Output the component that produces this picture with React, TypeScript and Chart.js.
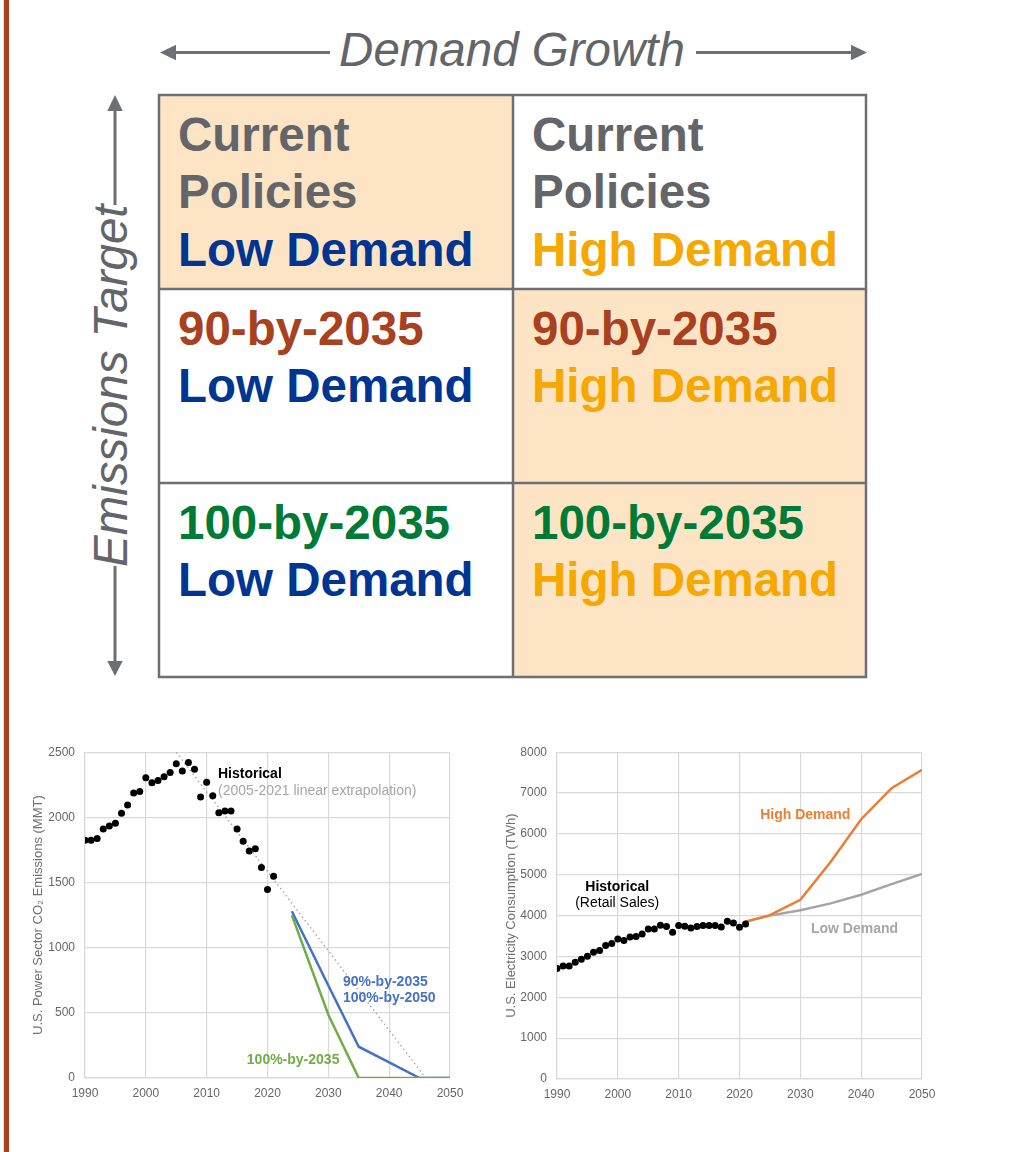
import React, { useEffect, useRef } from "react";
import { Chart, registerables } from "chart.js";

Chart.register(...registerables);

const FONT = '"Liberation Sans", Arial, Helvetica, sans-serif';

// ---------- Emissions chart data ----------
const emYears = [1990, 1991, 1992, 1993, 1994, 1995, 1996, 1997, 1998, 1999, 2000, 2001, 2002, 2003, 2004, 2005, 2006, 2007, 2008, 2009, 2010, 2011, 2012, 2013, 2014, 2015, 2016, 2017, 2018, 2019, 2020, 2021];
const emValues = [1824, 1824, 1837, 1911, 1934, 1954, 2031, 2094, 2186, 2199, 2303, 2265, 2283, 2311, 2344, 2411, 2355, 2421, 2370, 2156, 2270, 2166, 2036, 2048, 2048, 1911, 1816, 1742, 1760, 1615, 1446, 1548];
const trendYears = [2005, 2046];
const trendValues = [2500, 0];
const scenYears = [2024, 2030, 2035, 2040, 2045, 2050];
const em90Values = [1280, 710, 240, 120, 0, 0];
const em100Values = [1250, 485, 0, 0, 0, 0];

// ---------- Consumption chart data ----------
const conYears = [1990, 1991, 1992, 1993, 1994, 1995, 1996, 1997, 1998, 1999, 2000, 2001, 2002, 2003, 2004, 2005, 2006, 2007, 2008, 2009, 2010, 2011, 2012, 2013, 2014, 2015, 2016, 2017, 2018, 2019, 2020, 2021];
const conValues = [2702, 2767, 2767, 2857, 2931, 3004, 3102, 3143, 3265, 3314, 3429, 3388, 3478, 3486, 3551, 3673, 3673, 3763, 3731, 3592, 3755, 3739, 3698, 3731, 3755, 3755, 3755, 3722, 3861, 3820, 3714, 3796];
const projYears = [2021, 2025, 2030, 2035, 2040, 2045, 2050];
const highDemandValues = [3853, 4010, 4385, 5320, 6360, 7120, 7570];
const lowDemandValues = [3853, 4000, 4130, 4300, 4510, 4770, 5020];

// ---------- Matrix text ----------
const GRAY = "#636569";
const BLUE = "#003591";
const GOLD = "#F5A800";
const RUST = "#A8411F";
const GREEN = "#007A37";
const PEACH = "#FDE4C5";

const matrixCells = [
  { row: 0, col: 0, fill: true, lines: [["Current", GRAY], ["Policies", GRAY], ["Low Demand", BLUE]] },
  { row: 0, col: 1, fill: false, lines: [["Current", GRAY], ["Policies", GRAY], ["High Demand", GOLD]] },
  { row: 1, col: 0, fill: false, lines: [["90-by-2035", RUST], ["Low Demand", BLUE]] },
  { row: 1, col: 1, fill: true, lines: [["90-by-2035", RUST], ["High Demand", GOLD]] },
  { row: 2, col: 0, fill: false, lines: [["100-by-2035", GREEN], ["Low Demand", BLUE]] },
  { row: 2, col: 1, fill: true, lines: [["100-by-2035", GREEN], ["High Demand", GOLD]] },
];

const COLS = [159, 513, 866];
const ROWS = [95, 289, 483, 677];

type Note = { text: string; x: number; y: number; color: string; bold: boolean; align: CanvasTextAlign };

const emNotes: Note[] = [
  { text: "Historical", x: 2011.86, y: 2331, color: "#000000", bold: true, align: "left" },
  { text: "(2005-2021 linear extrapolation)", x: 2011.86, y: 2200, color: "#A6A6A6", bold: false, align: "left" },
  { text: "90%-by-2035", x: 2032.4, y: 736, color: "#4472C4", bold: true, align: "left" },
  { text: "100%-by-2050", x: 2032.4, y: 613, color: "#4472C4", bold: true, align: "left" },
  { text: "100%-by-2035", x: 2016.6, y: 138, color: "#70AD47", bold: true, align: "left" },
];

const conNotes: Note[] = [
  { text: "High Demand", x: 2023.4, y: 6459, color: "#ED7D31", bold: true, align: "left" },
  { text: "Low Demand", x: 2031.75, y: 3670, color: "#A6A6A6", bold: true, align: "left" },
  { text: "Historical", x: 1999.9, y: 4697, color: "#000000", bold: true, align: "center" },
  { text: "(Retail Sales)", x: 1999.9, y: 4306, color: "#000000", bold: false, align: "center" },
];

const notesPlugin = (notes: Note[]) => ({
  id: "notes",
  afterDatasetsDraw(chart: any) {
    const { ctx, scales } = chart;
    ctx.save();
    for (const n of notes) {
      ctx.font = `${n.bold ? "bold " : ""}14px ${FONT}`;
      ctx.fillStyle = n.color;
      ctx.textAlign = n.align;
      ctx.textBaseline = "middle";
      ctx.fillText(n.text, scales.x.getPixelForValue(n.x), scales.y.getPixelForValue(n.y));
    }
    ctx.restore();
  },
});

const pts = (xs: number[], ys: number[]) => xs.map((x, i) => ({ x, y: ys[i] }));

function axes(yMax: number, yStep: number, yTitle: string, yWidth: number, xHeight: number) {
  const tickFont = { family: FONT, size: 12 };
  return {
    x: {
      type: "linear",
      min: 1990,
      max: 2050,
      ticks: { stepSize: 10, callback: (v: any) => String(v), color: "#666666", font: tickFont, padding: 8, maxRotation: 0 },
      grid: { color: "#D9D9D9", drawTicks: false, lineWidth: 1.2 },
      border: { color: "#D9D9D9", width: 1.2 },
      afterFit: (s: any) => { s.height = xHeight; },
    },
    y: {
      type: "linear",
      min: 0,
      max: yMax,
      ticks: { stepSize: yStep, callback: (v: any) => String(v), color: "#666666", font: tickFont, padding: 10 },
      grid: { color: "#D9D9D9", drawTicks: false, lineWidth: 1.2 },
      border: { color: "#D9D9D9", width: 1.2 },
      title: { display: true, text: yTitle, color: "#707070", font: { family: FONT, size: 13 }, padding: { top: 4, bottom: 4 } },
      afterFit: (s: any) => { s.width = yWidth; },
    },
  };
}

function EmissionsChart() {
  const ref = useRef<HTMLCanvasElement>(null);
  useEffect(() => {
    const chart = new Chart(ref.current!, {
      type: "scatter",
      data: {
        datasets: [
          { data: pts(emYears, emValues), showLine: false, pointRadius: 3.5, pointBackgroundColor: "#000", pointBorderWidth: 0 },
          { data: pts(scenYears, em100Values), showLine: true, borderColor: "#70AD47", borderWidth: 2.5, pointRadius: 0, tension: 0 },
          { data: pts(scenYears, em90Values), showLine: true, borderColor: "#4472C4", borderWidth: 2.5, pointRadius: 0, tension: 0 },
          { data: pts(trendYears, trendValues), showLine: true, borderColor: "#9A9A9A", borderWidth: 1.2, borderDash: [1.5, 3], pointRadius: 0 },
        ],
      } as any,
      options: {
        animation: false,
        responsive: false,
        maintainAspectRatio: false,
        layout: { padding: { left: 27, top: 0, right: 30, bottom: 0 } },
        plugins: { legend: { display: false }, tooltip: { enabled: false } },
        scales: axes(2500, 500, "U.S. Power Sector CO\u2082 Emissions (MMT)", 58, 37) as any,
      },
      plugins: [notesPlugin(emNotes)],
    });
    return () => chart.destroy();
  }, []);
  return <canvas ref={ref} width={480} height={380} style={{ position: "absolute", left: 0, top: 735, width: 480, height: 380 }} />;
}

function ConsumptionChart() {
  const ref = useRef<HTMLCanvasElement>(null);
  useEffect(() => {
    const chart = new Chart(ref.current!, {
      type: "scatter",
      data: {
        datasets: [
          { data: pts(conYears, conValues), showLine: false, pointRadius: 3.5, pointBackgroundColor: "#000", pointBorderWidth: 0 },
          { data: pts(projYears, highDemandValues), showLine: true, borderColor: "#ED7D31", borderWidth: 2.5, pointRadius: 0, tension: 0 },
          { data: pts(projYears, lowDemandValues), showLine: true, borderColor: "#A5A5A5", borderWidth: 2.5, pointRadius: 0, tension: 0 },
        ],
      } as any,
      options: {
        animation: false,
        responsive: false,
        maintainAspectRatio: false,
        layout: { padding: { left: 20, top: 0, right: 28, bottom: 0 } },
        plugins: { legend: { display: false }, tooltip: { enabled: false } },
        scales: axes(8000, 1000, "U.S. Electricity Consumption (TWh)", 57, 36) as any,
      },
      plugins: [notesPlugin(conNotes)],
    });
    return () => chart.destroy();
  }, []);
  return <canvas ref={ref} width={470} height={380} style={{ position: "absolute", left: 480, top: 735, width: 470, height: 380 }} />;
}

function Matrix() {
  const stroke = "#6E6F73";
  const fs = 47.5;
  const base = 0.8465 * fs;
  return (
    <>
      <svg width={1026} height={700} style={{ position: "absolute", left: 0, top: 0 }}>
        {matrixCells.filter((c) => c.fill).map((c, i) => (
          <rect key={i} x={COLS[c.col]} y={ROWS[c.row]} width={COLS[c.col + 1] - COLS[c.col]} height={ROWS[c.row + 1] - ROWS[c.row]} fill={PEACH} />
        ))}
        <rect x={COLS[0]} y={ROWS[0]} width={COLS[2] - COLS[0]} height={ROWS[3] - ROWS[0]} fill="none" stroke={stroke} strokeWidth={2.5} />
        <line x1={COLS[1]} y1={ROWS[0]} x2={COLS[1]} y2={ROWS[3]} stroke={stroke} strokeWidth={2.5} />
        <line x1={COLS[0]} y1={ROWS[1]} x2={COLS[2]} y2={ROWS[1]} stroke={stroke} strokeWidth={2.5} />
        <line x1={COLS[0]} y1={ROWS[2]} x2={COLS[2]} y2={ROWS[2]} stroke={stroke} strokeWidth={2.5} />
        {/* horizontal arrow */}
        <line x1={174} y1={52.5} x2={330} y2={52.5} stroke={stroke} strokeWidth={3} />
        <polygon points="160,52.5 176,44.7 176,60.3" fill={stroke} />
        <line x1={696} y1={52.5} x2={853} y2={52.5} stroke={stroke} strokeWidth={3} />
        <polygon points="867,52.5 851,44.7 851,60.3" fill={stroke} />
        {/* vertical arrow */}
        <line x1={115} y1={109} x2={115} y2={205} stroke={stroke} strokeWidth={3} />
        <polygon points="115,95 107.3,111 122.7,111" fill={stroke} />
        <line x1={115} y1={566} x2={115} y2={663} stroke={stroke} strokeWidth={3} />
        <polygon points="115,676 107.3,661 122.7,661" fill={stroke} />
      </svg>
      <div style={{ position: "absolute", left: 262, top: 66.7 - base, width: 500, textAlign: "center", fontFamily: FONT, fontStyle: "italic", fontSize: fs, lineHeight: `${fs}px`, color: GRAY, whiteSpace: "nowrap" }}>
        Demand Growth
      </div>
      <div style={{ position: "absolute", left: 127 - (base - fs / 2) - 250, top: 385.5 - fs / 2, width: 500, height: fs, textAlign: "center", fontFamily: FONT, fontStyle: "italic", fontSize: fs, lineHeight: `${fs}px`, color: GRAY, whiteSpace: "nowrap", transform: "rotate(-90deg)", transformOrigin: "50% 50%" }}>
        Emissions Target
      </div>
      {matrixCells.map((c, i) => (
        <div key={i} style={{ position: "absolute", left: COLS[c.col] + 19, top: ROWS[c.row] + 10.6, fontFamily: FONT, fontWeight: "bold", fontSize: 47.5, lineHeight: "57.5px", whiteSpace: "nowrap" }}>
          {c.lines.map(([t, col], j) => (
            <div key={j} style={{ color: col }}>{t}</div>
          ))}
        </div>
      ))}
    </>
  );
}

export default function App() {
  return (
    <div style={{ position: "absolute", left: 0, top: 0, width: 1026, height: 1152, background: "#fff", overflow: "hidden" }}>
      <div style={{ position: "absolute", left: 3, top: 0, width: 1, height: 1152, background: "#E6E6E6" }} />
      <div style={{ position: "absolute", left: 4, top: 0, width: 5, height: 1152, background: "#A5411E" }} />
      <Matrix />
      <EmissionsChart />
      <ConsumptionChart />
    </div>
  );
}
